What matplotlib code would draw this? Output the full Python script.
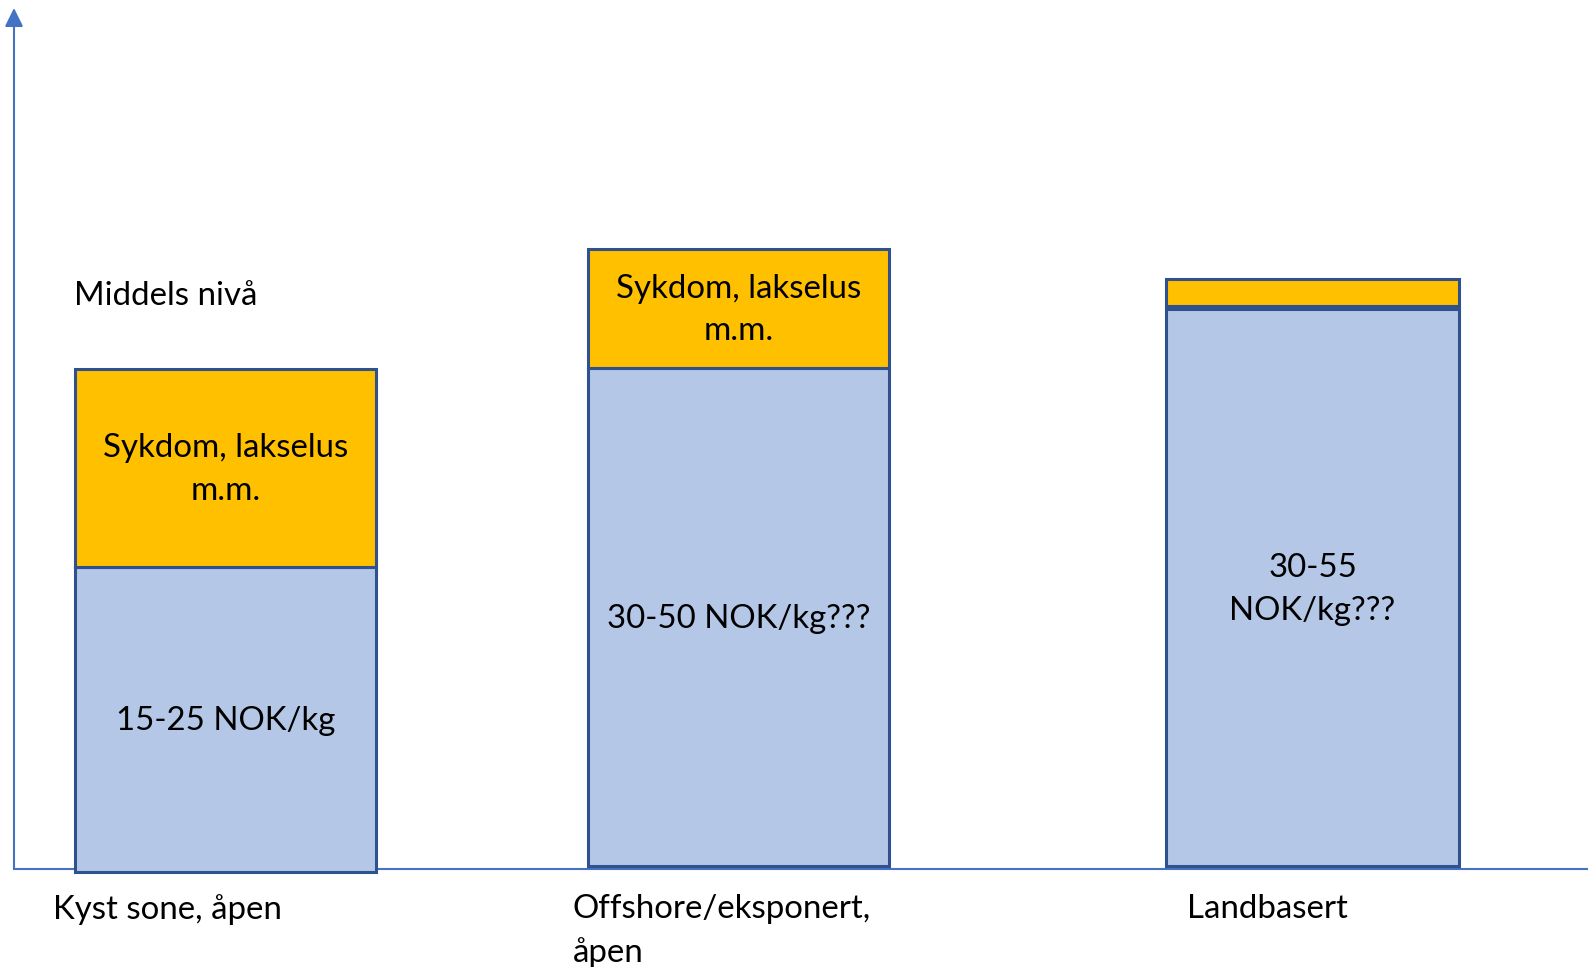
import matplotlib
matplotlib.use("Agg")
import matplotlib.pyplot as plt

plt.rcParams['font.family'] = ['Lato', 'DejaVu Sans']

categories = ["Kyst sone, åpen", "Offshore/eksponert,\nåpen", "Landbasert"]
base_labels = ["15-25 NOK/kg", "30-50 NOK/kg???", "30-55\nNOK/kg???"]
risk_label = "Sykdom, lakselus\nm.m."

# heights in arbitrary units (axis 0..100)
base_bottom = [-0.35, 0.35, 0.35]
base_top = [35.1, 58.2, 65.0]
risk_bottom = [35.1, 58.2, 65.4]
risk_top = [58.1, 72.0, 68.5]

# layout
x_pos = [211.5, 724.5, 1298.5]
widths = [301, 301, 293]
label_x = [39, 559, 1173]

blue = "#B4C7E7"
orange = "#FFC000"
edge = "#2F528F"
axis_col = "#4472C4"

fig = plt.figure(figsize=(15.88, 9.67), dpi=100)
ax = fig.add_axes([14 / 1588, (967 - 869) / 967, (1588 - 14) / 1588, (869 - 8) / 967])
ax.set_xlim(0, 1574)
ax.set_ylim(0, 100)

base_h = [t - b for t, b in zip(base_top, base_bottom)]
risk_h = [t - b for t, b in zip(risk_top, risk_bottom)]
ax.bar(x_pos, base_h, widths, bottom=base_bottom, color=blue, edgecolor=edge,
       linewidth=2.2, clip_on=False, zorder=3)
ax.bar(x_pos, risk_h, widths, bottom=risk_bottom, color=orange, edgecolor=edge,
       linewidth=2.2, clip_on=False, zorder=3)

fs = 23.8
ls = 1.52
for i in range(3):
    ax.text(x_pos[i], (base_bottom[i] + base_top[i]) / 2 - 0.2, base_labels[i], ha='center',
            va='center', fontsize=fs, linespacing=ls, zorder=4)
    if risk_h[i] > 5:
        ax.text(x_pos[i], (risk_bottom[i] + risk_top[i]) / 2 - 0.2, risk_label, ha='center',
                va='center', fontsize=fs, linespacing=ls, zorder=4)
    ax.text(label_x[i], -2.9, categories[i], ha='left', va='top', fontsize=fs,
            linespacing=ls, clip_on=False)

ax.text(60, 66.6, "Middels nivå", ha='left', va='center', fontsize=fs)

# axes lines
for s in ['top', 'right', 'left']:
    ax.spines[s].set_visible(False)
ax.spines['bottom'].set_color(axis_col)
ax.spines['bottom'].set_linewidth(1.5)
ax.annotate('', xy=(0, 1), xytext=(0, 0), xycoords='axes fraction',
            arrowprops=dict(arrowstyle='-|>,head_length=0.75,head_width=0.37',
                            mutation_scale=15, color=axis_col, lw=1.5,
                            shrinkA=0, shrinkB=0))
ax.set_xticks([])
ax.set_yticks([])

fig.savefig("out.png", dpi=100, facecolor='white')
